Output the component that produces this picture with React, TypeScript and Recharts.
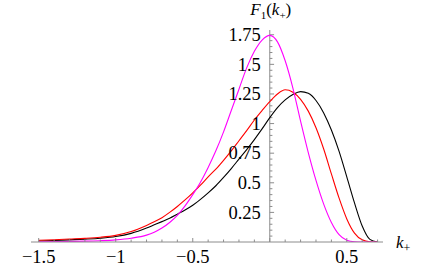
import { LineChart, Line, XAxis, YAxis, ReferenceLine, ReferenceDot } from "recharts"

// k+ sample points and F1(k+)
const kPlus = [
  -1.5, -1.4, -1.3, -1.2, -1.1, -1.0, -0.9, -0.8, -0.75, -0.7, -0.65, -0.6, -0.55, -0.5, -0.45, -0.4, -0.35, -0.3,
  -0.25, -0.2, -0.15, -0.1, -0.05, 0, 0.05, 0.1, 0.15, 0.2, 0.25, 0.3, 0.35, 0.4, 0.45, 0.5, 0.55, 0.6, 0.65, 0.7,
]

const magentaCurve = [
  0.002, 0.003, 0.005, 0.007, 0.011, 0.018, 0.032, 0.058, 0.083, 0.118, 0.165, 0.225, 0.305, 0.4, 0.505, 0.63, 0.77,
  0.93, 1.11, 1.29, 1.47, 1.61, 1.705, 1.745, 1.69, 1.53, 1.3, 1.02, 0.755, 0.52, 0.32, 0.165, 0.062, 0.015, 0.002, 0,
  0, 0,
]

const redCurve = [
  0.014, 0.019, 0.025, 0.031, 0.04, 0.056, 0.088, 0.14, 0.17, 0.205, 0.25, 0.3, 0.355, 0.415, 0.48, 0.55, 0.615, 0.69,
  0.77, 0.855, 0.94, 1.03, 1.11, 1.185, 1.25, 1.285, 1.265, 1.205, 1.105, 0.965, 0.785, 0.575, 0.37, 0.195, 0.075,
  0.018, 0.002, 0,
]

const blackCurve = [
  0.009, 0.013, 0.018, 0.024, 0.032, 0.046, 0.073, 0.118, 0.145, 0.172, 0.2, 0.235, 0.27, 0.31, 0.36, 0.415, 0.475,
  0.545, 0.62, 0.7, 0.78, 0.865, 0.955, 1.05, 1.135, 1.2, 1.245, 1.27, 1.255, 1.195, 1.09, 0.945, 0.765, 0.55, 0.33,
  0.135, 0.022, 0,
]

const xTicks = [
  -1.5, -1.4, -1.3, -1.2, -1.1, -1, -0.9, -0.8, -0.7, -0.6, -0.5, -0.4, -0.3, -0.2, -0.1, 0, 0.1, 0.2, 0.3, 0.4, 0.5,
  0.6, 0.7,
]
const xLabelValues = [-1.5, -1, -0.5, 0.5]
const xLabelTexts = ["\u22121.5", "\u22121", "\u22120.5", "0.5"]

const yLabelValues = [0.25, 0.5, 0.75, 1, 1.25, 1.5, 1.75]
const yLabelTexts = ["0.25", "0.5", "0.75", "1", "1.25", "1.5", "1.75"]
const yMinorTicks = Array.from({ length: 35 }, (_, i) => Math.round((i + 1) * 5) / 100)

const data = kPlus.map((k, i) => ({ k, m: magentaCurve[i], r: redCurve[i], b: blackCurve[i] }))

const FONT = "Liberation Serif, Times New Roman, serif"
const FS = 18.5
const AXIS = "#8c8c8c"
const X_MIN = -1.55
const X_MAX = 0.735
const Y_MAX = 1.79

function XTick({ x, y, payload }: any) {
  const v = Math.round(payload.value * 10) / 10
  const idx = xLabelValues.indexOf(v)
  const major = idx >= 0 || v === 0
  return (
    <g>
      <line x1={x} x2={x} y1={y} y2={y - (major ? 4 : 2.5)} stroke={AXIS} strokeWidth={1} />
      {idx >= 0 && (
        <text x={x} y={y + 21} textAnchor="middle" fontFamily={FONT} fontSize={FS} fill="#000">
          {xLabelTexts[idx]}
        </text>
      )}
    </g>
  )
}

function YTickLabel({ viewBox, text }: any) {
  return (
    <text x={viewBox.x - 9} y={viewBox.y} dy="0.34em" textAnchor="end" fontFamily={FONT} fontSize={FS} fill="#000">
      {text}
    </text>
  )
}

function Title({ viewBox }: any) {
  return (
    <text x={viewBox.x + 1} y={viewBox.y - 15} textAnchor="middle" fontFamily={FONT} fontSize={17} fill="#000">
      <tspan fontStyle="italic">F</tspan>
      <tspan fontSize={11} dy={4}>1</tspan>
      <tspan dy={-4}>(</tspan>
      <tspan fontStyle="italic">k</tspan>
      <tspan fontSize={11} dy={4}>+</tspan>
      <tspan dy={-4}>)</tspan>
    </text>
  )
}

function KLabel({ viewBox }: any) {
  return (
    <text x={viewBox.x + 13} y={viewBox.y + 6} fontFamily={FONT} fontSize={17} fill="#000">
      <tspan fontStyle="italic">k</tspan>
      <tspan fontSize={12} dy={4}>+</tspan>
    </text>
  )
}

export default function App() {
  return (
    <div>
      <style>{"body{margin:0;background:#fff}"}</style>
      <LineChart width={436} height={269} data={data} margin={{ top: 30, right: 53, bottom: 0, left: 31 }}>
        <XAxis
          type="number"
          dataKey="k"
          domain={[X_MIN, X_MAX]}
          ticks={xTicks}
          interval={0}
          tick={(props: any) => <XTick {...props} />}
          tickLine={false}
          tickSize={0}
          tickMargin={0}
          axisLine={{ stroke: AXIS, strokeWidth: 1 }}
          height={27}
          allowDataOverflow
        />
        <YAxis type="number" domain={[0, Y_MAX]} hide allowDataOverflow />
        <ReferenceLine x={0} stroke={AXIS} strokeWidth={1} />
        {yMinorTicks.map((v) => (
          <ReferenceLine
            key={"t" + v}
            segment={[
              { x: 0, y: v },
              { x: yLabelValues.includes(v) ? 0.028 : 0.017, y: v },
            ]}
            stroke={AXIS}
            strokeWidth={1}
          />
        ))}
        {yLabelValues.map((v, i) => (
          <ReferenceDot
            key={"l" + v}
            x={0}
            y={v}
            r={0}
            stroke="none"
            fill="none"
            ifOverflow="visible"
            label={<YTickLabel text={yLabelTexts[i]} />}
          />
        ))}
        <ReferenceDot x={0} y={Y_MAX} r={0} stroke="none" fill="none" ifOverflow="visible" label={<Title />} />
        <ReferenceDot x={X_MAX} y={0} r={0} stroke="none" fill="none" ifOverflow="visible" label={<KLabel />} />
        <Line type="monotone" dataKey="b" stroke="#000000" strokeWidth={1.1} dot={false} isAnimationActive={false} />
        <Line type="monotone" dataKey="r" stroke="#ff0000" strokeWidth={1.1} dot={false} isAnimationActive={false} />
        <Line type="monotone" dataKey="m" stroke="#ff00ff" strokeWidth={1.1} dot={false} isAnimationActive={false} />
      </LineChart>
    </div>
  )
}
